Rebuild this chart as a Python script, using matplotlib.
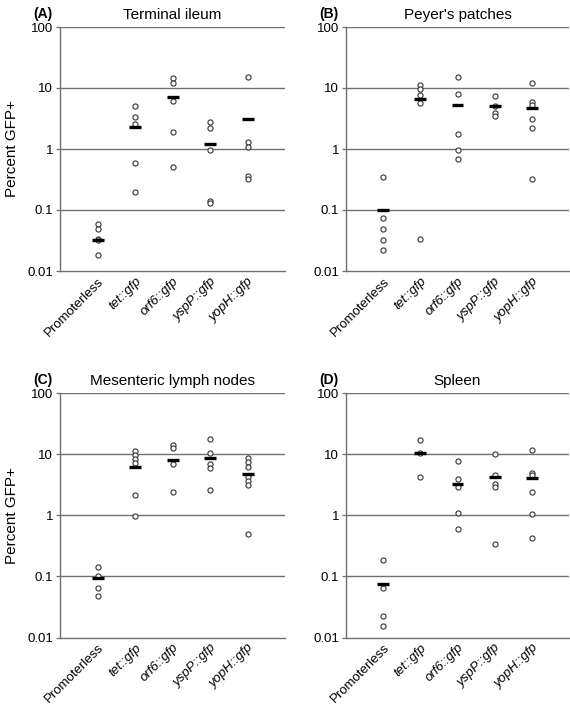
import matplotlib
matplotlib.use("Agg")
import matplotlib.pyplot as plt
import numpy as np

plt.rcParams['font.family'] = ['Liberation Sans', 'DejaVu Sans']

categories = ["Promoterless", "tet::gfp", "orf6::gfp", "yspP::gfp", "yopH::gfp"]
italic_flags = [False, True, True, True, True]
y_ticks = [0.01, 0.1, 1, 10, 100]
y_ticklabels = ["0.01", "0.1", "1", "10", "100"]

panel_letters = ["(A)", "(B)", "(C)", "(D)"]
panel_titles = ["Terminal ileum", "Peyer's patches", "Mesenteric lymph nodes", "Spleen"]

# Individual values per group (Percent GFP+)
ileum_points = [
    [0.060, 0.048, 0.034, 0.032, 0.018],
    [5.1, 3.3, 2.6, 0.6, 0.2],
    [14.5, 12.0, 6.2, 1.9, 0.5],
    [2.8, 2.25, 0.95, 0.142, 0.129],
    [15.3, 1.29, 1.07, 0.366, 0.32],
]
ileum_bars = [0.032, 2.3, 7.0, 1.22, 3.1]

peyer_points = [
    [0.345, 0.073, 0.048, 0.032, 0.022],
    [11.2, 9.6, 7.7, 5.7, 0.033],
    [15.3, 8.1, 1.78, 0.97, 0.69],
    [7.3, 5.0, 3.85, 3.5],
    [12.2, 5.9, 5.2, 3.07, 2.2, 0.32],
]
peyer_bars = [0.1, 6.6, 5.3, 5.0, 4.65]

mln_points = [
    [0.145, 0.10, 0.064, 0.048],
    [11.2, 9.8, 8.4, 7.1, 2.16, 0.99],
    [14.3, 12.7, 7.0, 2.42],
    [17.6, 10.5, 7.0, 5.9, 2.57],
    [8.6, 7.4, 6.1, 4.15, 3.6, 3.15, 0.495],
]
mln_bars = [0.094, 6.05, 8.1, 8.7, 4.8]

spleen_points = [
    [0.187, 0.065, 0.0225, 0.0153],
    [16.8, 10.5, 4.3],
    [7.7, 3.9, 2.95, 1.09, 0.6],
    [10.2, 4.5, 3.27, 2.85, 0.34],
    [11.6, 4.95, 4.5, 2.38, 1.03, 0.42],
]
spleen_bars = [0.074, 10.5, 3.2, 4.2, 4.1]

all_points = [ileum_points, peyer_points, mln_points, spleen_points]
all_bars = [ileum_bars, peyer_bars, mln_bars, spleen_bars]

fig = plt.figure(figsize=(5.70, 7.09), dpi=100)

W, H = 570.0, 709.0
# axes boxes in pixels: (left, top, right, bottom)
boxes = [
    (60, 27, 285, 271),
    (346, 27, 569, 271),
    (60, 393, 285, 637.5),
    (346, 393, 569, 637.5),
]

grid_color = "#707070"

for i, (l, t, r, b) in enumerate(boxes):
    ax = fig.add_axes([l / W, 1 - b / H, (r - l) / W, (b - t) / H])
    ax.set_yscale('log')
    ax.set_ylim(0.01, 100)
    ax.set_xlim(0, 6)
    ax.set_yticks(y_ticks)
    ax.set_yticklabels(y_ticklabels, fontsize=9.5)
    ax.yaxis.set_minor_locator(matplotlib.ticker.NullLocator())
    ax.tick_params(axis='y', length=3, width=0.9, color=grid_color, pad=2)
    for s in ['top', 'right']:
        ax.spines[s].set_visible(False)
    for s in ['left', 'bottom']:
        ax.spines[s].set_color(grid_color)
        ax.spines[s].set_linewidth(1.0)
    for yv in y_ticks[1:]:
        ax.axhline(yv, color=grid_color, lw=1.0, zorder=1)

    xs = np.arange(1, len(categories) + 1)
    for j, x in enumerate(xs):
        pts = all_points[i][j]
        ax.plot([x] * len(pts), pts, linestyle='none', marker='o', ms=3.7,
                mfc='white', mec='#333333', mew=0.8, zorder=3)
        ax.hlines(all_bars[i][j], x - 0.16, x + 0.16, color='black', lw=2.4, zorder=4)

    ax.set_xticks(xs)
    ax.set_xticklabels(categories, rotation=45, ha='right', rotation_mode='anchor',
                       fontsize=9.5)
    for lab, it in zip(ax.get_xticklabels(), italic_flags):
        if it:
            lab.set_style('italic')
    ax.tick_params(axis='x', length=0, pad=3)

    ax.set_title(panel_titles[i], fontsize=11, pad=6)
    ax.text(-0.075, 1.025, panel_letters[i], transform=ax.transAxes,
            fontsize=10, fontweight='bold', ha='center', va='bottom')
    if i % 2 == 0:
        ax.set_ylabel("Percent GFP+", fontsize=11, labelpad=6)

fig.savefig("out.png", dpi=100)
